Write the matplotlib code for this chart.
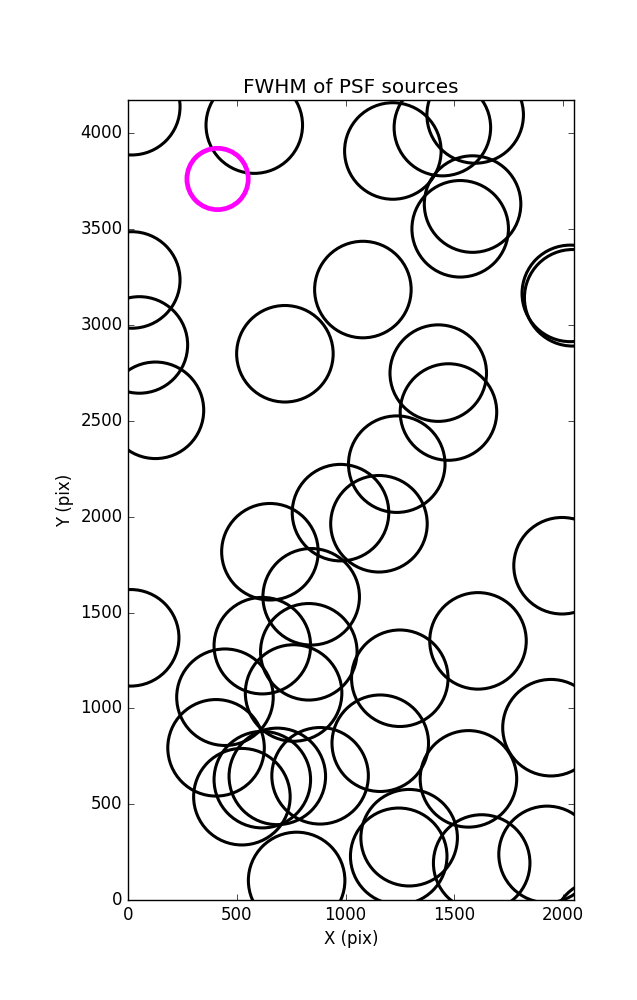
import matplotlib
matplotlib.use("Agg")
import matplotlib.pyplot as plt

# PSF source positions (pixels)
x_src = [16, 580, 1218, 1446, 1597, 1585, 1528, 2035, 2046, 16, 51, 1080, 721,
         1427, 125, 1474, 1236, 977, 1154, 652, 842, 1997, 11, 617, 831, 1610,
         445, 761, 1250, 1946, 404, 1160, 1566, 617, 686, 883, 523, 1293, 1245,
         1627, 1928, 775, 2177]
y_src = [4139, 4043, 3908, 4030, 4096, 3631, 3502, 3165, 3142, 3235, 2896, 3185,
         2850, 2749, 2555, 2546, 2274, 2021, 1963, 1817, 1582, 1744, 1368, 1327,
         1295, 1352, 1058, 1080, 1157, 899, 794, 818, 632, 628, 645, 648, 539,
         325, 228, 193, 238, 102, -146]

# highlighted reference source
x_ref = [411]
y_ref = [3762]

plt.style.use("classic")
fig = plt.figure(figsize=(6.37, 10.0), dpi=100, facecolor="white")
ax = fig.add_axes([128.3 / 637, 0.1, (574 - 128.3) / 637, 0.8])

ax.scatter(x_src, y_src, s=4830, facecolors="none", edgecolors="black",
           linewidths=2.2)
ax.scatter(x_ref, y_ref, s=1950, facecolors="none", edgecolors="magenta",
           linewidths=3.4)

ax.set_xlim(0, 2052)
ax.set_ylim(0, 4174)
ax.set_xticks([0, 500, 1000, 1500, 2000])
ax.set_yticks([0, 500, 1000, 1500, 2000, 2500, 3000, 3500, 4000])
ax.set_title("FWHM of PSF sources")
ax.set_xlabel("X (pix)")
ax.set_ylabel("Y (pix)")

fig.savefig("out.png", dpi=100, facecolor="white")
